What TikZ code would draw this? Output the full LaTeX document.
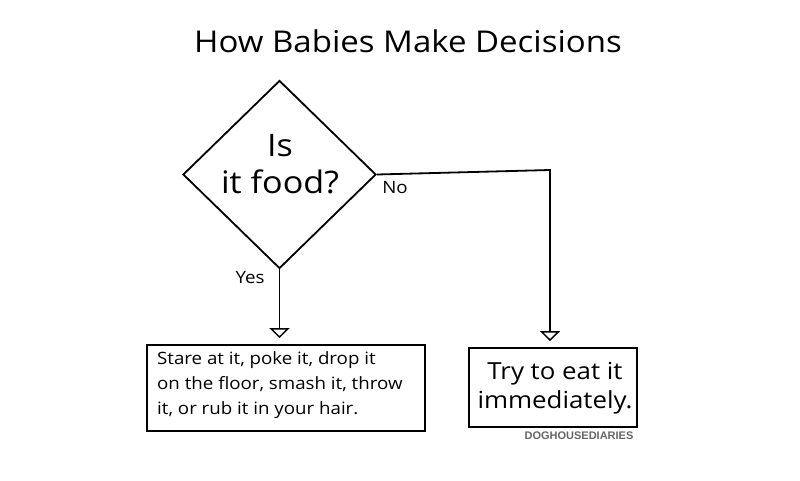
\documentclass[tikz,border=0pt]{standalone}
\usepackage{fontspec}
\setmainfont{Open Sans}[FakeStretch=1.1]
\newfontfamily\dhfont{Liberation Sans}
\usetikzlibrary{shapes.geometric,arrows.meta}
\begin{document}
\begin{tikzpicture}[x=1pt,y=-1pt,
  line/.style={line width=1.8pt,line join=miter},
  arr/.style={line,-{Triangle[open,width=20pt,length=10pt,line width=1.5pt]},shorten >=6pt},
  box/.style={draw,line width=1.8pt,inner sep=0pt},
  lbl/.style={font=\fontsize{17}{19}\selectfont,inner sep=0pt}]
\useasboundingbox[fill=white] (0,0) rectangle (800,480);
\node[font=\fontsize{30}{36}\selectfont] (title) at (408,41) {How Babies Make Decisions};
\node[diamond,draw,line width=1.8pt,minimum width=193pt,minimum height=188pt,inner sep=0pt] (q) at (279.5,174.5) {};
\node[font=\fontsize{31}{37}\selectfont,align=center,inner sep=0pt] (qt) at (280,164) {Is\\it food?};
\node[box,minimum width=278pt,minimum height=86pt] (lbox) at (286,388) {};
\node[font=\fontsize{17}{25}\selectfont,align=left,inner sep=0pt,anchor=west] (lt) at (157,385) {Stare at it, poke it, drop it\\on the floor, smash it, throw\\it, or rub it in your hair.};
\node[box,minimum width=168pt,minimum height=79pt] (rbox) at (553,387.5) {};
\node[font=\fontsize{23.5}{29}\selectfont,align=center,inner sep=0pt] (rt) at (555,388) {Try to eat it\\immediately.};
\node[font=\dhfont\bfseries\fontsize{11}{12}\selectfont,text=black!60,inner sep=0pt] (dh) at (579,436) {DOGHOUSEDIARIES};
\node[lbl] (no) at (395,188) {No};
\node[lbl] (yes) at (250,278) {Yes};
\coordinate (nc) at (550,170);
\draw[arr] (q.south) -- (q.south |- lbox.north);
\draw[arr] (q.east) -- (nc) -- (nc |- rbox.north);
\end{tikzpicture}
\end{document}
